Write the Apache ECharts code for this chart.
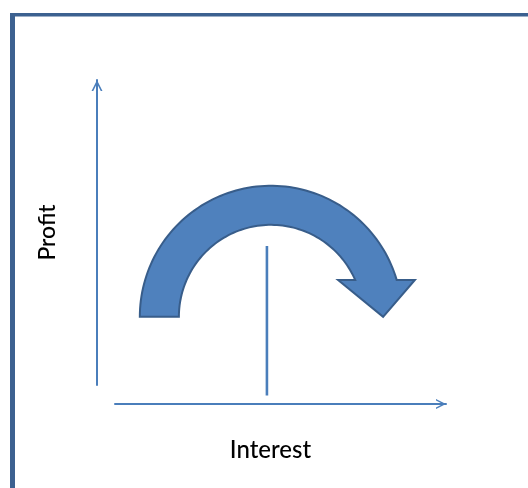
<!DOCTYPE html>
<html>
<head>
<meta charset="utf-8">
<script src="https://cdn.jsdelivr.net/npm/echarts@6/dist/echarts.min.js"></script>
<style>
html,body{margin:0;padding:0;background:#fff;}
#chart{width:528px;height:488px;}
</style>
</head>
<body>
<div id="chart"></div>
<script>
// Axis titles
const xAxisTitle = 'Interest';
const yAxisTitle = 'Profit';
// Conceptual diagram geometry in axis units (x: 0-100, y: 0-100)
const arcCenter = [47.1, 26.9];
const arcRadii = [27.8, 39.6];          // inner, outer (x units)
const headBaseY = [38.3];
const headBaseX = [67.4, 90.6];         // left, right corners of arrowhead base
const headTip = [81.0, 26.9];
const dividerX = [45.9, 45.9];
const dividerY = [2.6, 48.8];

const chevron = 'path://M0 10L5 0L10 10L8.4 10L5 3.2L1.6 10Z';
const axisColor = '#4A7EBB';

const chart = echarts.init(document.getElementById('chart'));
chart.setOption({
  animation: false,
  backgroundColor: '#fff',
  graphic: [
    {type: 'rect', shape: {x: 10, y: 13, width: 518, height: 3.5}, style: {fill: '#3C6190'}, z: 10},
    {type: 'rect', shape: {x: 10, y: 13, width: 5, height: 475}, style: {fill: '#3C6190'}, z: 10}
  ],
  grid: [
    {left: 115, top: 80, width: 331, height: 324, outerBoundsMode: 'none'},
    {left: 97, top: 80, width: 200, height: 305, outerBoundsMode: 'none'}
  ],
  xAxis: [
    {gridIndex: 0, type: 'value', min: 0, max: 100,
     name: xAxisTitle, nameLocation: 'middle', nameGap: 34,
     nameTextStyle: {fontFamily: 'Lato', fontSize: 24, fontWeight: 500, color: '#000', padding: [0, 20, 0, 0]},
     axisLine: {show: true, lineStyle: {color: axisColor, width: 2}, symbol: ['none', chevron], symbolSize: [13, 10], symbolOffset: [0, -5]},
     axisTick: {show: false}, axisLabel: {show: false}, splitLine: {show: false}},
    {gridIndex: 1, type: 'value', min: 0, max: 100, show: false}
  ],
  yAxis: [
    {gridIndex: 0, type: 'value', min: 0, max: 100, show: false},
    {gridIndex: 1, type: 'value', min: 0, max: 100,
     name: yAxisTitle, nameLocation: 'middle', nameGap: 38, nameRotate: 90,
     nameTextStyle: {fontFamily: 'Lato', fontSize: 23, fontWeight: 500, color: '#000'},
     axisLine: {show: true, lineStyle: {color: axisColor, width: 2}, symbol: ['none', chevron], symbolSize: [12, 11], symbolOffset: [0, -5.5]},
     axisTick: {show: false}, axisLabel: {show: false}, splitLine: {show: false}}
  ],
  series: [
    {
      type: 'line', xAxisIndex: 0, yAxisIndex: 0,
      data: [[dividerX[0], dividerY[0]], [dividerX[1], dividerY[1]]],
      symbol: 'none', lineStyle: {color: axisColor, width: 2.6}, silent: true
    },
    {
      type: 'custom', xAxisIndex: 0, yAxisIndex: 0,
      data: [[arcCenter[0], arcCenter[1]]],
      renderItem: function (params, api) {
        const c = api.coord([arcCenter[0], arcCenter[1]]);
        const ri = api.size([arcRadii[0], 0])[0];
        const ro = api.size([arcRadii[1], 0])[0];
        const base = api.coord([headBaseX[0], headBaseY[0]]);
        const baseR = api.coord([headBaseX[1], headBaseY[0]]);
        const tip = api.coord([headTip[0], headTip[1]]);
        const dy = c[1] - base[1];
        const pts = [];
        const aOut = Math.asin(dy / ro);
        const aIn = Math.asin(dy / ri);
        const n = 90;
        for (let i = 0; i <= n; i++) {
          const a = Math.PI - (Math.PI - aOut) * i / n;
          pts.push([c[0] + ro * Math.cos(a), c[1] - ro * Math.sin(a)]);
        }
        pts.push([baseR[0], base[1]]);
        pts.push([tip[0], tip[1]]);
        pts.push([base[0], base[1]]);
        for (let i = 0; i <= n; i++) {
          const a = aIn + (Math.PI - aIn) * i / n;
          pts.push([c[0] + ri * Math.cos(a), c[1] - ri * Math.sin(a)]);
        }
        return {
          type: 'polygon',
          shape: {points: pts},
          style: {fill: '#4F81BD', stroke: '#385D8A', lineWidth: 2}
        };
      }
    }
  ]
});
</script>
</body>
</html>
